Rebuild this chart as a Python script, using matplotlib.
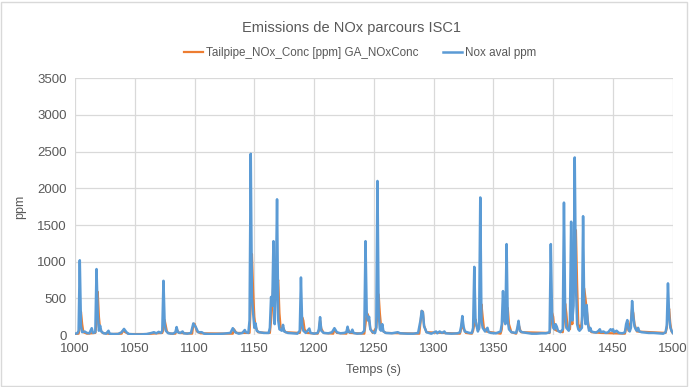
import matplotlib.pyplot as plt
from matplotlib.patches import Rectangle

# Nox aval ppm (blue)
aval_t = [1000, 1002, 1003, 1004, 1005, 1006, 1008, 1010, 1012, 1013, 1014, 1015, 1017, 1018, 1019, 1020,
	1021, 1022, 1024, 1026, 1028, 1029, 1032, 1036, 1039, 1041, 1043, 1045, 1050, 1055, 1060, 1064, 1066,
	1068, 1070, 1072, 1073, 1074, 1075, 1076, 1078, 1082, 1084, 1085, 1086, 1088, 1090, 1091, 1094, 1097,
	1099, 1101, 1103, 1106, 1108, 1112, 1118, 1124, 1130, 1132, 1134, 1137, 1140, 1142, 1143, 1145, 1146,
	1147, 1148, 1149, 1150, 1151, 1152, 1154, 1158, 1162, 1163, 1164, 1165, 1166, 1167, 1168, 1169, 1170,
	1171, 1173, 1174, 1175, 1178, 1182, 1186, 1188, 1189, 1190, 1191, 1193, 1196, 1197, 1200, 1203, 1204,
	1205, 1206, 1208, 1212, 1215, 1217, 1219, 1222, 1225, 1227, 1228, 1229, 1231, 1232, 1233, 1236, 1240,
	1242, 1243, 1244, 1245, 1246, 1247, 1249, 1251, 1252, 1253, 1254, 1255, 1256, 1257, 1258, 1260, 1265,
	1270, 1272, 1278, 1283, 1287, 1289, 1290, 1291, 1292, 1294, 1298, 1302, 1303, 1305, 1307, 1309, 1310,
	1315, 1320, 1322, 1323, 1324, 1325, 1326, 1328, 1330, 1332, 1333, 1334, 1335, 1336, 1337, 1338, 1339,
	1340, 1341, 1343, 1345, 1346, 1348, 1352, 1356, 1357, 1358, 1359, 1360, 1361, 1362, 1363, 1365, 1369,
	1370, 1371, 1372, 1374, 1378, 1382, 1386, 1390, 1394, 1397, 1398, 1399, 1400, 1401, 1402, 1403, 1404,
	1406, 1408, 1409, 1410, 1411, 1413, 1414, 1415, 1416, 1417, 1418, 1419, 1420, 1421, 1422, 1424, 1425,
	1426, 1427, 1428, 1429, 1430, 1431, 1432, 1434, 1436, 1438, 1439, 1440, 1442, 1444, 1446, 1448, 1449,
	1450, 1451, 1453, 1455, 1458, 1460, 1461, 1462, 1463, 1464, 1465, 1466, 1467, 1468, 1469, 1470, 1471,
	1472, 1474, 1477, 1480, 1484, 1488, 1492, 1494, 1495, 1496, 1497, 1498, 1499, 1500]
aval_v = [20, 25, 60, 1020, 120, 40, 50, 30, 25, 60, 95, 30, 40, 900, 300, 60,
	130, 50, 25, 20, 60, 20, 15, 15, 40, 85, 40, 15, 10, 10, 15, 30, 40,
	25, 45, 30, 60, 740, 150, 60, 25, 20, 40, 110, 40, 30, 50, 25, 20, 30,
	160, 110, 40, 40, 20, 15, 15, 20, 30, 95, 40, 20, 30, 70, 40, 30, 200,
	2470, 500, 300, 100, 160, 60, 40, 30, 30, 100, 520, 400, 1280, 150, 600, 1850, 200,
	80, 60, 140, 50, 30, 25, 20, 60, 785, 150, 60, 30, 90, 30, 20, 30, 80,
	245, 60, 30, 25, 40, 95, 40, 25, 30, 40, 115, 40, 40, 75, 30, 20, 25,
	60, 1280, 300, 200, 250, 80, 40, 30, 100, 2100, 300, 80, 60, 150, 50, 30, 25,
	40, 25, 20, 20, 30, 200, 330, 310, 120, 40, 20, 50, 25, 50, 30, 50, 25,
	20, 25, 40, 120, 260, 120, 50, 40, 30, 30, 100, 930, 200, 120, 50, 100, 1875,
	200, 100, 50, 100, 40, 30, 25, 50, 150, 600, 200, 150, 1240, 200, 80, 40, 30,
	100, 195, 60, 40, 30, 20, 20, 25, 25, 40, 1240, 300, 100, 80, 150, 115, 60,
	40, 80, 1805, 300, 100, 60, 200, 1545, 200, 400, 2420, 700, 150, 80, 60, 100, 1620,
	300, 150, 410, 150, 60, 100, 50, 40, 35, 60, 80, 40, 50, 30, 40, 80, 60,
	80, 40, 60, 30, 25, 40, 150, 205, 80, 50, 100, 465, 250, 120, 80, 60, 100,
	50, 40, 35, 30, 30, 25, 20, 40, 130, 705, 250, 100, 60, 30]

# Tailpipe_NOx_Conc (orange)
tail_t = [1000, 1003, 1004, 1005, 1006, 1007, 1010, 1017, 1018, 1019, 1020, 1021, 1023, 1030, 1039, 1040,
	1042, 1045, 1060, 1073, 1074, 1075, 1076, 1077, 1080, 1084, 1085, 1087, 1098, 1099, 1100, 1102, 1105,
	1130, 1132, 1133, 1135, 1145, 1146, 1147, 1148, 1149, 1150, 1151, 1153, 1160, 1163, 1164, 1165, 1166,
	1167, 1168, 1169, 1170, 1171, 1172, 1174, 1176, 1188, 1189, 1190, 1191, 1192, 1194, 1203, 1204, 1205,
	1206, 1208, 1216, 1217, 1219, 1227, 1228, 1230, 1242, 1243, 1244, 1245, 1246, 1247, 1249, 1252, 1253,
	1254, 1255, 1256, 1258, 1260, 1288, 1289, 1290, 1291, 1292, 1294, 1322, 1323, 1324, 1325, 1327, 1332,
	1333, 1334, 1335, 1336, 1338, 1339, 1340, 1341, 1342, 1344, 1356, 1357, 1358, 1359, 1360, 1361, 1362,
	1363, 1365, 1369, 1370, 1371, 1373, 1397, 1398, 1399, 1400, 1401, 1403, 1408, 1409, 1410, 1411, 1412,
	1414, 1415, 1416, 1417, 1418, 1419, 1420, 1421, 1423, 1424, 1425, 1426, 1427, 1428, 1429, 1430, 1432,
	1440, 1460, 1461, 1462, 1463, 1465, 1466, 1467, 1468, 1470, 1494, 1495, 1496, 1497, 1498, 1499, 1500]
tail_v = [15, 20, 100, 318, 150, 40, 20, 30, 150, 590, 250, 80, 30, 15, 20, 60,
	40, 15, 15, 30, 80, 205, 120, 40, 20, 20, 80, 30, 20, 150, 155, 50, 25,
	20, 20, 80, 30, 30, 30, 400, 1105, 600, 250, 120, 40, 30, 30, 200, 400, 750,
	700, 750, 700, 750, 300, 100, 100, 40, 30, 100, 245, 200, 80, 30, 20, 60, 200,
	90, 30, 20, 80, 30, 20, 90, 30, 20, 150, 305, 280, 200, 90, 30, 100, 300,
	555, 300, 120, 50, 30, 20, 180, 330, 320, 130, 40, 20, 80, 200, 90, 30, 20,
	60, 150, 215, 120, 80, 300, 420, 250, 100, 50, 20, 80, 300, 370, 300, 350, 370,
	150, 40, 20, 80, 150, 40, 30, 150, 305, 250, 80, 60, 40, 200, 430, 300, 100,
	80, 300, 150, 600, 1000, 1430, 700, 150, 80, 200, 500, 635, 500, 350, 200, 80, 40,
	30, 20, 100, 150, 60, 200, 360, 300, 150, 50, 30, 100, 300, 360, 150, 50, 30]

x_ticks = list(range(1000, 1501, 50))
y_ticks = list(range(0, 3501, 500))

TEXT = '#595959'
GRID = '#d9d9d9'

def main():
	plt.rcParams['font.family'] = ['Liberation Sans', 'DejaVu Sans']
	fig = plt.figure(figsize=(6.9, 3.87), dpi=100)
	fig.patches.append(Rectangle((0.002, 0.003), 0.994, 0.992, transform=fig.transFigure,
		fill=False, edgecolor=GRID, linewidth=1))
	ax = fig.add_axes([0.1087, 0.134, 0.8663, 0.664])

	ax.plot(tail_t, tail_v, color='#ED7D31', linewidth=1.6, label='Tailpipe_NOx_Conc [ppm] GA_NOxConc')
	ax.plot(aval_t, aval_v, color='#5B9BD5', linewidth=1.8, label='Nox aval ppm')

	ax.set_xlim(1000, 1500)
	ax.set_ylim(0, 3500)
	ax.set_xticks(x_ticks)
	ax.set_yticks(y_ticks)
	ax.grid(True, color=GRID, linewidth=0.9)
	ax.set_axisbelow(True)
	for s in ax.spines.values():
		s.set_visible(False)
	ax.tick_params(length=0, labelsize=9.5, labelcolor=TEXT, pad=6)

	ax.set_xlabel('Temps (s)', fontsize=9, color=TEXT, labelpad=6)
	ax.set_ylabel('ppm', fontsize=9, color=TEXT, labelpad=8)
	fig.text(0.51, 0.928, 'Emissions de NOx parcours ISC1', ha='center', va='center',
		fontsize=10.5, color=TEXT)
	fig.legend(loc='center', bbox_to_anchor=(0.522, 0.862), ncol=2, frameon=False,
		fontsize=8.4, labelcolor=TEXT, handlelength=1.6,
		handletextpad=0.25, columnspacing=2.1)

	fig.savefig('out.png', dpi=100)

if __name__ == "__main__":
	main()
